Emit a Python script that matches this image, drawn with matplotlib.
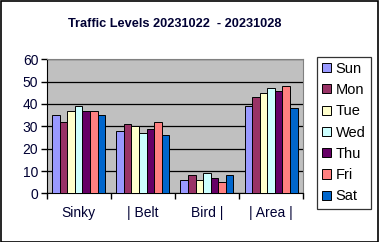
import numpy as np
import matplotlib
matplotlib.use('Agg')
import matplotlib.pyplot as plt
from matplotlib.patches import Rectangle

plt.rcParams['font.family'] = ['Liberation Sans', 'DejaVu Sans']

categories = ['Sinky', '| Belt', 'Bird |', '| Area |']
days = ['Sun', 'Mon', 'Tue', 'Wed', 'Thu', 'Fri', 'Sat']
values = {
    'Sun': [35, 28, 6, 39],
    'Mon': [32, 31, 8, 43],
    'Tue': [37, 30, 6, 45],
    'Wed': [39, 27, 9, 47],
    'Thu': [37, 29, 7, 46],
    'Fri': [37, 32, 5, 48],
    'Sat': [35, 26, 8, 38],
}
colors = ['#9999FF', '#993366', '#FFFFCC', '#CCFFFF', '#660066', '#FF8080', '#0066CC']

fig = plt.figure(figsize=(3.79, 2.42), dpi=100)
fig.patches.append(Rectangle((0.0015, 0.002), 0.996, 0.995, transform=fig.transFigure,
                             fill=False, edgecolor='black', linewidth=1.2))
ax = fig.add_axes([0.123, 0.201, 0.677, 0.554])
ax.set_facecolor('#C0C0C0')

x = np.arange(len(categories))
w = 0.118
for i, d in enumerate(days):
    ax.bar(x + (i - 3) * w, values[d], width=w, color=colors[i],
           edgecolor='black', linewidth=0.7, label=d, zorder=3)

ax.set_xlim(-0.5, 3.5)
ax.set_ylim(0, 60)
ax.set_yticks(range(0, 61, 10))
ax.yaxis.grid(True, color='black', linewidth=0.9, zorder=1)
ax.set_axisbelow(True)

ax.set_xticks(np.arange(-0.5, 3.6, 1.0))
ax.set_xticklabels([])
ax.set_xticks(x, minor=True)
ax.set_xticklabels(categories, minor=True)
ax.tick_params(axis='x', which='minor', length=0, pad=9, labelsize=10)
ax.tick_params(axis='x', which='major', length=4, color='black', width=1)
ax.tick_params(axis='y', length=4, color='black', width=1, labelsize=10, pad=2)
for t in ax.get_xticklabels(minor=True) + ax.get_yticklabels():
    t.set_color('#000033')

ax.spines['left'].set_color('black')
ax.spines['bottom'].set_color('black')
ax.spines['top'].set_color('#808080')
ax.spines['right'].set_color('#808080')

fig.text(0.462, 0.9, 'Traffic Levels 20231022  - 20231028', ha='center', va='center',
         fontsize=9.2, fontweight='bold', color='#000033')

leg = ax.legend(loc='upper left', bbox_to_anchor=(1.055, 1.02), frameon=True, fancybox=False,
                edgecolor='black', fontsize=10.5, handlelength=0.6, handleheight=0.6,
                handletextpad=0.3, labelspacing=0.5, borderpad=0.35, borderaxespad=0)
leg.get_frame().set_linewidth(0.9)

plt.savefig('out.png', dpi=100)
